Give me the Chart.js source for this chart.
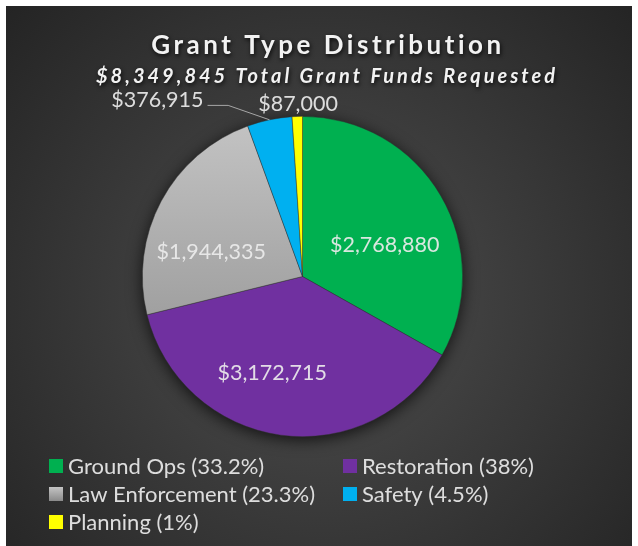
<!DOCTYPE html>
<html>
<head>
<meta charset="utf-8">
<script src="https://cdn.jsdelivr.net/npm/chart.js@4.4.1/dist/chart.umd.min.js"></script>
<style>
    html, body { margin: 0; padding: 0; background: #ffffff; }
    #wrap { width: 638px; height: 546px; }
</style>
</head>
<body>
<div id="wrap"><canvas id="chart" width="638" height="546"></canvas></div>
<script>
const categories = ['Ground Ops', 'Restoration', 'Law Enforcement', 'Safety', 'Planning']
const amounts = [2768880, 3172715, 1944335, 376915, 87000]
const chartTitle = 'Grant Type Distribution'
const chartSubtitle = '$8,349,845 Total Grant Funds Requested'

// slice fills, gray one gets a gradient below
const sliceColors = ['#00b050', '#7030a0', '#a6a6a6', '#00b0f0', '#ffff00']

// where each value label sits: degrees off the slice middle, radius as part of R
const labelShift = [9.4, 9.7, -13.1, -27.6, 0.4]
const labelRadius = [0.55, 0.63, 0.59, 1.425, 1.08]

const FONT = 'Lato, "Open Sans", sans-serif'

const total = amounts.reduce((a, b) => a + b, 0)
const money = v => '$' + v.toLocaleString('en-US')
const pct = v => {
    const p = (v / total * 100).toFixed(1)
    return p.endsWith('.0') ? p.slice(0, -2) : p
}

function grayFill(chart, top, bottom) {
    const g = chart.ctx.createLinearGradient(0, top, 0, bottom)
    g.addColorStop(0, '#c4c4c4')
    g.addColorStop(1, '#8a8a8a')
    return g
}

function sliceColor(c) {
    if (c.dataIndex !== 2) return sliceColors[c.dataIndex]
    const area = c.chart.chartArea
    if (!area) return sliceColors[2]
    return grayFill(c.chart, area.top, area.bottom)
}

// dark panel with a soft radial light
const panel = {
    id: 'panel',
    beforeDraw(chart) {
        const { ctx } = chart
        ctx.save()
        const g = ctx.createRadialGradient(322, 300, 10, 322, 300, 430)
        g.addColorStop(0, '#4e4e4e')
        g.addColorStop(1, '#242424')
        ctx.fillStyle = g
        ctx.fillRect(6, 6, 626, 540)
        ctx.restore()
    }
}

// shadow under the pie
const pieShadow = {
    id: 'pieShadow',
    beforeDatasetsDraw(chart) {
        const arc = chart.getDatasetMeta(0).data[0]
        if (!arc) return
        const { ctx } = chart
        ctx.save()
        ctx.shadowColor = 'rgba(0,0,0,0.75)'
        ctx.shadowBlur = 16
        ctx.shadowOffsetY = 3
        ctx.fillStyle = '#202020'
        ctx.beginPath()
        ctx.arc(arc.x, arc.y, arc.outerRadius, 0, Math.PI * 2)
        ctx.fill()
        ctx.restore()
    }
}

// value labels + the one leader line
const sliceLabels = {
    id: 'sliceLabels',
    afterDatasetsDraw(chart) {
        const { ctx } = chart
        const arcs = chart.getDatasetMeta(0).data
        ctx.save()
        ctx.font = '21.5px ' + FONT
        ctx.textAlign = 'center'
        ctx.textBaseline = 'middle'
        arcs.forEach((arc, i) => {
            const mid = (arc.startAngle + arc.endAngle) / 2
            const a = mid + labelShift[i] * Math.PI / 180
            const r = arc.outerRadius * labelRadius[i]
            const x = arc.x + Math.cos(a) * r
            const y = arc.y + Math.sin(a) * r
            const text = money(amounts[i])
            ctx.fillStyle = 'rgba(235,235,235,0.92)'
            ctx.fillText(text, x, y)
            if (labelRadius[i] > 1.3) {
                // leader line: label -> elbow -> slice edge
                const w = ctx.measureText(text).width
                const ea = mid - 11.6 * Math.PI / 180
                const er = arc.outerRadius * 1.165
                const ex = arc.x + Math.cos(ea) * er
                const ey = arc.y + Math.sin(ea) * er
                ctx.strokeStyle = '#a6a6a6'
                ctx.lineWidth = 1
                ctx.beginPath()
                ctx.moveTo(x + w / 2 + 4, ey)
                ctx.lineTo(ex, ey)
                ctx.lineTo(arc.x + Math.cos(mid) * arc.outerRadius, arc.y + Math.sin(mid) * arc.outerRadius)
                ctx.stroke()
            }
        })
        ctx.restore()
    }
}

const titleBlock = {
    id: 'titleBlock',
    afterDraw(chart) {
        const { ctx } = chart
        ctx.save()
        ctx.textAlign = 'center'
        ctx.textBaseline = 'middle'
        ctx.fillStyle = '#f2f2f2'
        ctx.shadowColor = 'rgba(0,0,0,0.8)'
        ctx.shadowBlur = 4
        ctx.shadowOffsetX = 1
        ctx.shadowOffsetY = 2
        ctx.font = 'bold 26px ' + FONT
        ctx.letterSpacing = '3.5px'
        ctx.fillText(chartTitle, 328, 46)
        ctx.font = 'italic bold 20px ' + FONT
        ctx.letterSpacing = '3px'
        ctx.fillText(chartSubtitle, 327, 77)
        ctx.restore()
    }
}

// two column legend at the bottom
const legendBlock = {
    id: 'legendBlock',
    afterDraw(chart) {
        const { ctx } = chart
        ctx.save()
        ctx.font = '22px ' + FONT
        ctx.textBaseline = 'middle'
        categories.forEach((name, i) => {
            const x = i % 2 === 0 ? 49 : 343
            const y = 466 + Math.floor(i / 2) * 28
            ctx.fillStyle = i === 2 ? grayFill(chart, y - 7, y + 7) : sliceColors[i]
            ctx.fillRect(x, y - 7, 14, 14)
            ctx.fillStyle = 'rgba(235,235,235,0.92)'
            ctx.fillText(name + ' (' + pct(amounts[i]) + '%)', x + 19, y + 1)
        })
        ctx.restore()
    }
}

new Chart(document.getElementById('chart'), {
    type: 'pie',
    data: {
        labels: categories,
        datasets: [{
            data: amounts,
            backgroundColor: sliceColor,
            borderColor: 'rgba(50,50,50,0.6)',
            borderWidth: 0.75
        }]
    },
    options: {
        responsive: false,
        animation: false,
        layout: { padding: { top: 116, bottom: 109, left: 142, right: 175 } },
        plugins: {
            legend: { display: false },
            tooltip: { enabled: false }
        }
    },
    plugins: [panel, pieShadow, sliceLabels, titleBlock, legendBlock]
})
</script>
</body>
</html>
